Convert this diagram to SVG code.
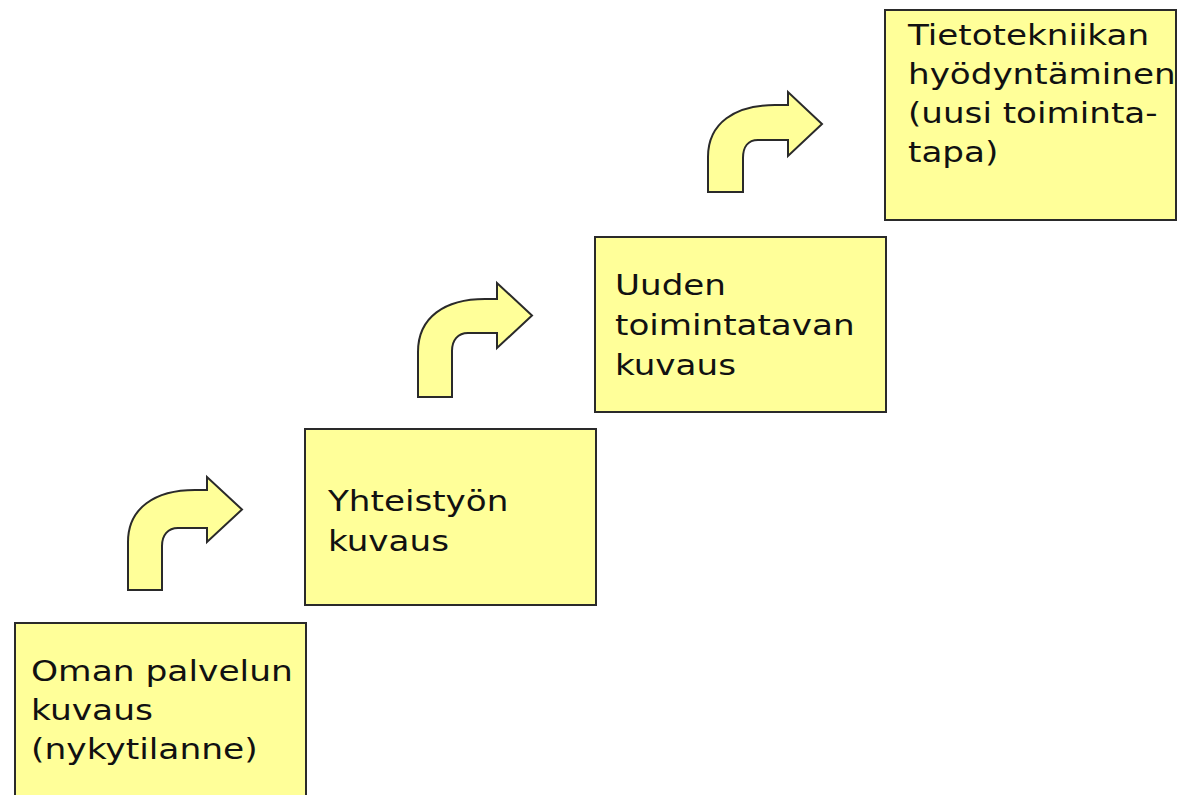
<svg xmlns="http://www.w3.org/2000/svg" width="1178" height="795" viewBox="0 0 1178 795">
<style>
.box{fill:#FFFF99;stroke:#2a2a2a;stroke-width:2}
.arr{fill:#FFFF99;stroke:#2a2a2a;stroke-width:2;stroke-linejoin:miter}
.lbl{font-family:"DejaVu Sans",Verdana,sans-serif;font-size:28px;fill:#111}
</style>
<rect width="1178" height="795" fill="#ffffff"/>
<g id="connectors">
<path class="arr" d="M128,590 L128,542 C128,508 155,490 195,490 L207,490 L207,477 L242,509.5 L207,542 L207,528 L178,528 C168,528 162,535 162,546 L162,590 Z"/>
<path class="arr" d="M418,397 L418,352 C418,317 445,299 485,299 L497,299 L497,283 L532,315.5 L497,348 L497,333 L468,333 C458,333 452,340 452,351 L452,397 Z"/>
<path class="arr" d="M708,192 L708,157 C708,123 735,105 775,105 L788,105 L788,92 L822,124 L788,156 L788,140 L758,140 C748,140 743,147 743,158 L743,192 Z"/>
</g>
<g id="node1">
<rect class="box" x="15" y="623" width="291" height="180"/>
<text class="lbl" transform="translate(31,681) scale(1.23,1)"><tspan x="0" y="0">Oman palvelun</tspan><tspan x="0" y="39">kuvaus</tspan><tspan x="0" y="78">(nykytilanne)</tspan></text>
</g>
<g id="node2">
<rect class="box" x="305" y="429" width="291" height="176"/>
<text class="lbl" transform="translate(328,511) scale(1.22,1)"><tspan x="0" y="0">Yhteistyön</tspan><tspan x="0" y="40">kuvaus</tspan></text>
</g>
<g id="node3">
<rect class="box" x="595" y="237" width="291" height="175"/>
<text class="lbl" transform="translate(615,295) scale(1.22,1)"><tspan x="0" y="0">Uuden</tspan><tspan x="0" y="40">toimintatavan</tspan><tspan x="0" y="80">kuvaus</tspan></text>
</g>
<g id="node4">
<rect class="box" x="885" y="10" width="291" height="210"/>
<text class="lbl" transform="translate(908,45) scale(1.22,1)"><tspan x="0" y="0">Tietotekniikan</tspan><tspan x="0" y="39">hyödyntäminen</tspan><tspan x="0" y="78">(uusi toiminta-</tspan><tspan x="0" y="117">tapa)</tspan></text>
</g>
</svg>
